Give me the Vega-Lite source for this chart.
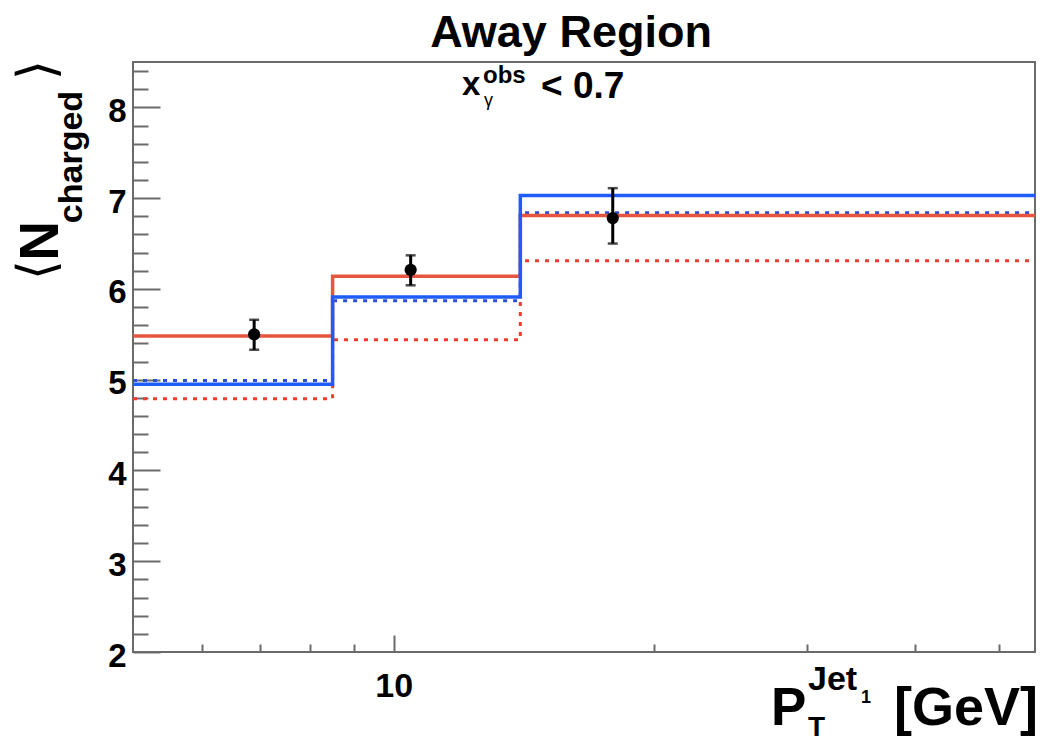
{
  "$schema": "https://vega.github.io/schema/vega-lite/v6.json",
  "width": 902,
  "height": 590,
  "autosize": {"type": "none"},
  "padding": {"left": 133, "top": 62, "right": 7, "bottom": 90},
  "background": "white",
  "config": {
    "view": {"stroke": "#6a6a6a", "strokeWidth": 2},
    "font": "Liberation Sans"
  },
  "datasets": {
    "hist": [
      {"series": "red_dotted", "pt": 5, "n": 4.79},
      {"series": "red_dotted", "pt": 8.5, "n": 5.44},
      {"series": "red_dotted", "pt": 14, "n": 6.31},
      {"series": "red_dotted", "pt": 55, "n": 6.31},
      {"series": "blue_dotted", "pt": 5, "n": 4.99},
      {"series": "blue_dotted", "pt": 8.5, "n": 5.87},
      {"series": "blue_dotted", "pt": 14, "n": 6.84},
      {"series": "blue_dotted", "pt": 55, "n": 6.84},
      {"series": "red_solid", "pt": 5, "n": 5.48},
      {"series": "red_solid", "pt": 8.5, "n": 6.14},
      {"series": "red_solid", "pt": 14, "n": 6.81},
      {"series": "red_solid", "pt": 55, "n": 6.81},
      {"series": "blue_solid", "pt": 5, "n": 4.95},
      {"series": "blue_solid", "pt": 8.5, "n": 5.91},
      {"series": "blue_solid", "pt": 14, "n": 7.03},
      {"series": "blue_solid", "pt": 55, "n": 7.03}
    ],
    "pts": [
      {"pt": 6.9, "n": 5.50, "lo": 5.33, "hi": 5.66},
      {"pt": 10.46, "n": 6.21, "lo": 6.04, "hi": 6.37},
      {"pt": 17.9, "n": 6.78, "lo": 6.50, "hi": 7.11}
    ],
    "one": [{}]
  },
  "resolve": {"axis": {"x": "independent", "y": "independent"}},
  "layer": [
    {
      "data": {"name": "hist"},
      "transform": [{"filter": "datum.series === 'red_dotted'"}],
      "mark": {"type": "line", "interpolate": "step-after", "color": "#f03c2c", "strokeWidth": 3, "strokeDash": [4, 6], "clip": true},
      "encoding": {
        "x": {"field": "pt", "type": "quantitative", "scale": {"type": "log", "domain": [5, 55], "nice": false},
              "axis": {"orient": "bottom", "values": [10], "title": null, "domain": false, "grid": false, "ticks": false,
                       "labelFont": "Liberation Sans", "labelFontWeight": "bold", "labelFontSize": 34, "labelColor": "#000",
                       "labelPadding": 17, "labelBaseline": "top"}},
        "y": {"field": "n", "type": "quantitative", "scale": {"domain": [2, 8.5], "nice": false, "zero": false},
              "axis": {"orient": "left", "values": [2, 3, 4, 5, 6, 7, 8], "title": null, "domain": false, "grid": false, "ticks": false,
                       "labelFont": "Liberation Sans", "labelFontWeight": "bold", "labelFontSize": 33, "labelColor": "#000",
                       "labelPadding": 7, "labelOffset": 4}}
      }
    },
    {
      "data": {"name": "hist"},
      "transform": [{"filter": "datum.series === 'blue_dotted'"}],
      "mark": {"type": "line", "interpolate": "step-after", "color": "#2a4fd6", "strokeWidth": 3, "strokeDash": [4, 6], "clip": true},
      "encoding": {
        "x": {"field": "pt", "type": "quantitative",
              "axis": {"orient": "bottom", "values": [10], "title": null, "domain": false, "grid": false, "labels": false,
                       "ticks": true, "tickSize": -17, "tickWidth": 2, "tickColor": "#6a6a6a"}},
        "y": {"field": "n", "type": "quantitative",
              "axis": {"orient": "left", "values": [2, 3, 4, 5, 6, 7, 8], "title": null, "domain": false, "grid": false, "labels": false,
                       "ticks": true, "tickSize": -27, "tickWidth": 2, "tickColor": "#6a6a6a"}}
      }
    },
    {
      "data": {"name": "hist"},
      "transform": [{"filter": "datum.series === 'red_solid'"}],
      "mark": {"type": "line", "interpolate": "step-after", "color": "#e8553f", "strokeWidth": 3.5, "clip": true},
      "encoding": {
        "x": {"field": "pt", "type": "quantitative",
              "axis": {"orient": "bottom", "values": [6, 7, 8, 9, 20, 30, 40, 50], "title": null, "domain": false, "grid": false, "labels": false,
                       "ticks": true, "tickSize": -8, "tickWidth": 2, "tickColor": "#6a6a6a"}},
        "y": {"field": "n", "type": "quantitative",
              "axis": {"orient": "left", "values": [2.2, 2.4, 2.6, 2.8, 3.2, 3.4, 3.6, 3.8, 4.2, 4.4, 4.6, 4.8, 5.2, 5.4, 5.6, 5.8, 6.2, 6.4, 6.6, 6.8, 7.2, 7.4, 7.6, 7.8, 8.2, 8.4],
                       "title": null, "domain": false, "grid": false, "labels": false,
                       "ticks": true, "tickSize": -15, "tickWidth": 2, "tickColor": "#6a6a6a"}}
      }
    },
    {
      "data": {"name": "hist"},
      "transform": [{"filter": "datum.series === 'blue_solid'"}],
      "mark": {"type": "line", "interpolate": "step-after", "color": "#1f5cff", "strokeWidth": 3.5, "clip": true},
      "encoding": {
        "x": {"field": "pt", "type": "quantitative", "axis": null},
        "y": {"field": "n", "type": "quantitative", "axis": null}
      }
    },
    {
      "data": {"name": "pts"},
      "mark": {"type": "errorbar", "ticks": {"size": 10, "thickness": 2.5, "color": "#000"}, "rule": {"strokeWidth": 3, "color": "#000"}},
      "encoding": {
        "x": {"field": "pt", "type": "quantitative", "axis": null},
        "y": {"field": "lo", "type": "quantitative", "axis": null},
        "y2": {"field": "hi"}
      }
    },
    {
      "data": {"name": "pts"},
      "mark": {"type": "point", "shape": "circle", "filled": true, "color": "#000", "opacity": 1, "size": 150},
      "encoding": {
        "x": {"field": "pt", "type": "quantitative", "axis": null},
        "y": {"field": "n", "type": "quantitative", "axis": null}
      }
    },
    {
      "data": {"name": "one"},
      "mark": {"type": "text", "text": "Away Region", "font": "Liberation Sans", "fontWeight": "bold", "fontSize": 45, "align": "center", "baseline": "alphabetic", "dx": 438, "dy": -15, "color": "#000"},
      "encoding": {"x": {"datum": 5, "type": "quantitative", "axis": null}, "y": {"datum": 8.5, "type": "quantitative", "axis": null}}
    },
    {
      "data": {"name": "one"},
      "mark": {"type": "text", "text": "x", "font": "Liberation Sans", "fontWeight": "bold", "fontSize": 33, "align": "left", "baseline": "alphabetic", "dx": 329, "dy": 33, "color": "#000"},
      "encoding": {"x": {"datum": 5, "type": "quantitative", "axis": null}, "y": {"datum": 8.5, "type": "quantitative", "axis": null}}
    },
    {
      "data": {"name": "one"},
      "mark": {"type": "text", "text": "obs", "font": "Liberation Sans", "fontWeight": "bold", "fontSize": 24, "align": "left", "baseline": "alphabetic", "dx": 350, "dy": 21, "color": "#000"},
      "encoding": {"x": {"datum": 5, "type": "quantitative", "axis": null}, "y": {"datum": 8.5, "type": "quantitative", "axis": null}}
    },
    {
      "data": {"name": "one"},
      "mark": {"type": "text", "text": "γ", "font": "Liberation Sans", "fontWeight": "normal", "fontSize": 18, "align": "left", "baseline": "alphabetic", "dx": 351, "dy": 44, "color": "#000"},
      "encoding": {"x": {"datum": 5, "type": "quantitative", "axis": null}, "y": {"datum": 8.5, "type": "quantitative", "axis": null}}
    },
    {
      "data": {"name": "one"},
      "mark": {"type": "text", "text": "< 0.7", "font": "Liberation Sans", "fontWeight": "bold", "fontSize": 37, "align": "left", "baseline": "alphabetic", "dx": 408, "dy": 36, "color": "#000"},
      "encoding": {"x": {"datum": 5, "type": "quantitative", "axis": null}, "y": {"datum": 8.5, "type": "quantitative", "axis": null}}
    },
    {
      "data": {"name": "one"},
      "mark": {"type": "text", "text": "P", "font": "Liberation Sans", "fontWeight": "bold", "fontSize": 53, "align": "left", "baseline": "alphabetic", "dx": -264, "dy": 73, "color": "#000"},
      "encoding": {"x": {"datum": 55, "type": "quantitative", "axis": null}, "y": {"datum": 2, "type": "quantitative", "axis": null}}
    },
    {
      "data": {"name": "one"},
      "mark": {"type": "text", "text": "T", "font": "Liberation Sans", "fontWeight": "bold", "fontSize": 28, "align": "left", "baseline": "alphabetic", "dx": -227, "dy": 84, "color": "#000"},
      "encoding": {"x": {"datum": 55, "type": "quantitative", "axis": null}, "y": {"datum": 2, "type": "quantitative", "axis": null}}
    },
    {
      "data": {"name": "one"},
      "mark": {"type": "text", "text": "Jet", "font": "Liberation Sans", "fontWeight": "bold", "fontSize": 34, "align": "left", "baseline": "alphabetic", "dx": -227, "dy": 38, "color": "#000"},
      "encoding": {"x": {"datum": 55, "type": "quantitative", "axis": null}, "y": {"datum": 2, "type": "quantitative", "axis": null}}
    },
    {
      "data": {"name": "one"},
      "mark": {"type": "text", "text": "1", "font": "Liberation Sans", "fontWeight": "bold", "fontSize": 18, "align": "left", "baseline": "alphabetic", "dx": -174, "dy": 51, "color": "#000"},
      "encoding": {"x": {"datum": 55, "type": "quantitative", "axis": null}, "y": {"datum": 2, "type": "quantitative", "axis": null}}
    },
    {
      "data": {"name": "one"},
      "mark": {"type": "text", "text": "[GeV]", "font": "Liberation Sans", "fontWeight": "bold", "fontSize": 54, "align": "right", "baseline": "alphabetic", "dx": 3, "dy": 73, "color": "#000"},
      "encoding": {"x": {"datum": 55, "type": "quantitative", "axis": null}, "y": {"datum": 2, "type": "quantitative", "axis": null}}
    },
    {
      "data": {"name": "one"},
      "mark": {"type": "text", "text": "⟨", "font": "DejaVu Sans", "fontWeight": "normal", "fontSize": 52, "angle": 270, "align": "center", "baseline": "alphabetic", "dx": 382, "dy": -79, "color": "#000"},
      "encoding": {"x": {"datum": 5, "type": "quantitative", "axis": null}, "y": {"datum": 2, "type": "quantitative", "axis": null}}
    },
    {
      "data": {"name": "one"},
      "mark": {"type": "text", "text": "N", "font": "Liberation Sans", "fontWeight": "bold", "fontSize": 55, "angle": 270, "align": "center", "baseline": "alphabetic", "dx": 411, "dy": -75, "color": "#000"},
      "encoding": {"x": {"datum": 5, "type": "quantitative", "axis": null}, "y": {"datum": 2, "type": "quantitative", "axis": null}}
    },
    {
      "data": {"name": "one"},
      "mark": {"type": "text", "text": "charged", "font": "Liberation Sans", "fontWeight": "bold", "fontSize": 34, "angle": 270, "align": "center", "baseline": "alphabetic", "dx": 495, "dy": -51, "color": "#000"},
      "encoding": {"x": {"datum": 5, "type": "quantitative", "axis": null}, "y": {"datum": 2, "type": "quantitative", "axis": null}}
    },
    {
      "data": {"name": "one"},
      "mark": {"type": "text", "text": "⟩", "font": "DejaVu Sans", "fontWeight": "normal", "fontSize": 52, "angle": 270, "align": "center", "baseline": "alphabetic", "dx": 582, "dy": -79, "color": "#000"},
      "encoding": {"x": {"datum": 5, "type": "quantitative", "axis": null}, "y": {"datum": 2, "type": "quantitative", "axis": null}}
    }
  ]
}
